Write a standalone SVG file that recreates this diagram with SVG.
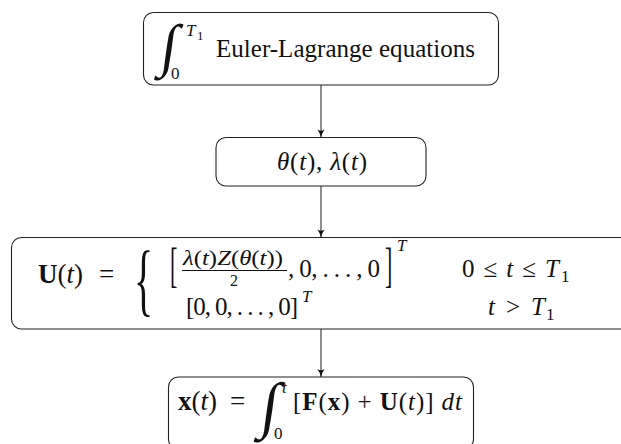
<svg xmlns="http://www.w3.org/2000/svg" width="621" height="444" viewBox="0 0 621 444">
<style>
.box{fill:#fff;stroke:#222;stroke-width:1.1}
.edge{stroke:#333;stroke-width:1.1;fill:none}
text{font-family:"Liberation Serif","Times New Roman",serif;fill:#111;font-size:25px}
.i{font-style:italic}
.b{font-weight:bold}
.s{font-size:17px}
.ss{font-size:13px}
.big{font-size:27px}
</style>
<defs>
<marker id="ah" viewBox="0 0 10 10" refX="10" refY="5" markerWidth="10" markerHeight="8" orient="auto" markerUnits="userSpaceOnUse">
<path d="M0,0.5 Q5,4 10,5 Q5,6 0,9.5 Q3,5 0,0.5 Z" fill="#111"/>
</marker>
</defs>
<g id="connectors">
<line class="edge" x1="321" y1="85" x2="321" y2="137.5" marker-end="url(#ah)"/>
<line class="edge" x1="321" y1="186" x2="321" y2="237.5" marker-end="url(#ah)"/>
<line class="edge" x1="321" y1="329" x2="321" y2="377" marker-end="url(#ah)"/>
</g>
<g id="euler">
<rect class="box" x="143.5" y="12.5" width="355" height="72.5" rx="10"/>
<text x="0" y="0" style="font-size:58px;font-weight:300" transform="translate(159,65) skewX(-8)">∫</text>
<text class="s" x="171" y="79">0</text>
<text class="s i" x="186" y="36">T</text>
<text class="ss" x="197" y="40">1</text>
<text x="216" y="57" textLength="259" lengthAdjust="spacing">Euler-Lagrange equations</text>
</g>
<g id="thetalambda">
<rect class="box" x="216" y="137.5" width="210" height="48.5" rx="10"/>
<text x="277" y="170" textLength="90" lengthAdjust="spacing"><tspan class="i">θ</tspan>(<tspan class="i">t</tspan>), <tspan class="i">λ</tspan>(<tspan class="i">t</tspan>)</text>
</g>
<g id="control">
<rect class="box" x="11.5" y="237.5" width="619" height="91.5" rx="10"/>
<text class="big" x="38" y="283"><tspan class="b">U</tspan>(<tspan class="i">t</tspan>)</text>
<text class="big" x="99" y="283">=</text>
<text x="0" y="0" style="font-size:80px" transform="translate(134,306) scale(0.5,1)">{</text>
<text x="0" y="0" style="font-size:49px" transform="translate(170,281) scale(0.45,1)">[</text>
<text x="183" y="265" style="font-size:20px" textLength="100" lengthAdjust="spacingAndGlyphs"><tspan class="i">λ</tspan>(<tspan class="i">t</tspan>)<tspan class="i">Z</tspan>(<tspan class="i">θ</tspan>(<tspan class="i">t</tspan>))</text>
<line x1="182" y1="270.5" x2="287" y2="270.5" stroke="#111" stroke-width="1"/>
<text x="234" y="286" text-anchor="middle" style="font-size:16px">2</text>
<text x="288" y="277" textLength="92" lengthAdjust="spacing">,  0, . . . , 0</text>
<text x="0" y="0" style="font-size:49px" transform="translate(385,281) scale(0.45,1)">]</text>
<text class="s i" x="397" y="251">T</text>
<text x="462" y="277" textLength="97" lengthAdjust="spacing">0 ≤ <tspan class="i">t</tspan> ≤ <tspan class="i">T</tspan></text>
<text class="s" x="561" y="282">1</text>
<text x="186" y="315" textLength="112" lengthAdjust="spacing">[0,  0, . . . , 0]</text>
<text class="s i" x="302" y="302">T</text>
<text x="488" y="315" textLength="57" lengthAdjust="spacing"><tspan class="i">t</tspan> &gt; <tspan class="i">T</tspan></text>
<text class="s" x="546" y="320">1</text>
</g>
<g id="state">
<rect class="box" x="168.5" y="377" width="305" height="72" rx="10"/>
<text class="big" x="178" y="410"><tspan class="b">x</tspan>(<tspan class="i">t</tspan>)</text>
<text class="big" x="230" y="410">=</text>
<text x="0" y="0" style="font-size:62px;font-weight:300" transform="translate(259,426) skewX(-8)">∫</text>
<text class="s i" x="282" y="393">t</text>
<text class="s" x="274" y="439">0</text>
<text x="293" y="410" textLength="169" lengthAdjust="spacing">[<tspan class="b">F</tspan>(<tspan class="b">x</tspan>) + <tspan class="b">U</tspan>(<tspan class="i">t</tspan>)] <tspan class="i">dt</tspan></text>
</g>
</svg>
